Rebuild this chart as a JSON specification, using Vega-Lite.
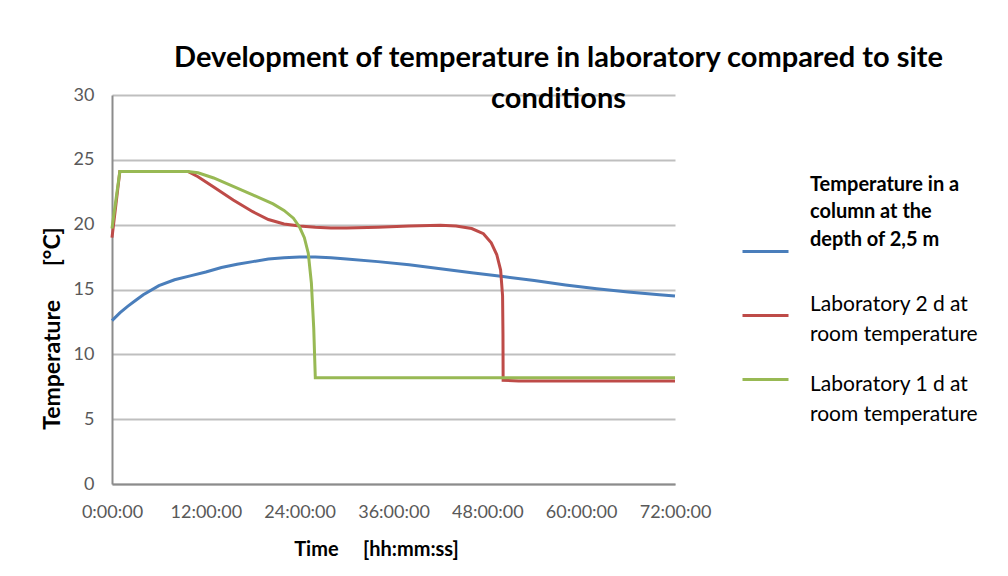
{
  "$schema": "https://vega.github.io/schema/vega-lite/v6.json",
  "width": 563,
  "height": 389,
  "autosize": {"type": "none"},
  "padding": {"left": 112, "top": 95, "right": 333, "bottom": 92},
  "background": "white",
  "title": {
    "text": ["Development of temperature in laboratory compared to site", "conditions"],
    "font": "Lato",
    "fontSize": 29,
    "fontWeight": "bold",
    "color": "#000000",
    "lineHeight": 41,
    "anchor": "middle",
    "dx": 165,
    "offset": -28
  },
  "data": {
    "values": [
      {"t": 0, "v": 12.6, "s": "blue"},
      {"t": 1, "v": 13.2, "s": "blue"},
      {"t": 2, "v": 13.7, "s": "blue"},
      {"t": 3, "v": 14.15, "s": "blue"},
      {"t": 4, "v": 14.6, "s": "blue"},
      {"t": 6, "v": 15.3, "s": "blue"},
      {"t": 8, "v": 15.75, "s": "blue"},
      {"t": 10, "v": 16.05, "s": "blue"},
      {"t": 12, "v": 16.35, "s": "blue"},
      {"t": 14, "v": 16.7, "s": "blue"},
      {"t": 16, "v": 16.95, "s": "blue"},
      {"t": 18, "v": 17.15, "s": "blue"},
      {"t": 20, "v": 17.35, "s": "blue"},
      {"t": 22, "v": 17.45, "s": "blue"},
      {"t": 24, "v": 17.5, "s": "blue"},
      {"t": 26, "v": 17.5, "s": "blue"},
      {"t": 28, "v": 17.45, "s": "blue"},
      {"t": 30, "v": 17.35, "s": "blue"},
      {"t": 34, "v": 17.15, "s": "blue"},
      {"t": 38, "v": 16.9, "s": "blue"},
      {"t": 42, "v": 16.6, "s": "blue"},
      {"t": 46, "v": 16.3, "s": "blue"},
      {"t": 50, "v": 16.0, "s": "blue"},
      {"t": 54, "v": 15.7, "s": "blue"},
      {"t": 58, "v": 15.35, "s": "blue"},
      {"t": 62, "v": 15.05, "s": "blue"},
      {"t": 66, "v": 14.8, "s": "blue"},
      {"t": 70, "v": 14.6, "s": "blue"},
      {"t": 72, "v": 14.5, "s": "blue"},

      {"t": 0, "v": 19.0, "s": "red"},
      {"t": 1, "v": 24.1, "s": "red"},
      {"t": 9.7, "v": 24.1, "s": "red"},
      {"t": 11, "v": 23.7, "s": "red"},
      {"t": 13, "v": 22.9, "s": "red"},
      {"t": 15.5, "v": 21.9, "s": "red"},
      {"t": 18, "v": 21.0, "s": "red"},
      {"t": 20, "v": 20.4, "s": "red"},
      {"t": 22, "v": 20.05, "s": "red"},
      {"t": 24, "v": 19.9, "s": "red"},
      {"t": 26, "v": 19.8, "s": "red"},
      {"t": 28, "v": 19.75, "s": "red"},
      {"t": 30, "v": 19.75, "s": "red"},
      {"t": 34, "v": 19.8, "s": "red"},
      {"t": 38, "v": 19.9, "s": "red"},
      {"t": 42, "v": 19.95, "s": "red"},
      {"t": 44, "v": 19.9, "s": "red"},
      {"t": 46, "v": 19.7, "s": "red"},
      {"t": 47.5, "v": 19.3, "s": "red"},
      {"t": 48.5, "v": 18.6, "s": "red"},
      {"t": 49.2, "v": 17.7, "s": "red"},
      {"t": 49.7, "v": 16.5, "s": "red"},
      {"t": 49.95, "v": 14.5, "s": "red"},
      {"t": 50.0, "v": 11.5, "s": "red"},
      {"t": 50.02, "v": 8.0, "s": "red"},
      {"t": 52, "v": 7.95, "s": "red"},
      {"t": 72, "v": 7.95, "s": "red"},

      {"t": 0, "v": 19.7, "s": "green"},
      {"t": 1, "v": 24.1, "s": "green"},
      {"t": 9.7, "v": 24.1, "s": "green"},
      {"t": 11, "v": 24.0, "s": "green"},
      {"t": 13, "v": 23.6, "s": "green"},
      {"t": 15.5, "v": 22.95, "s": "green"},
      {"t": 18, "v": 22.3, "s": "green"},
      {"t": 20.6, "v": 21.6, "s": "green"},
      {"t": 22, "v": 21.1, "s": "green"},
      {"t": 23.2, "v": 20.5, "s": "green"},
      {"t": 24, "v": 19.8, "s": "green"},
      {"t": 24.6, "v": 19.0, "s": "green"},
      {"t": 25.1, "v": 17.8, "s": "green"},
      {"t": 25.5, "v": 15.5, "s": "green"},
      {"t": 25.8, "v": 12.0, "s": "green"},
      {"t": 26.0, "v": 8.2, "s": "green"},
      {"t": 72, "v": 8.2, "s": "green"}
    ]
  },
  "mark": {"type": "line", "strokeWidth": 3, "interpolate": "linear"},
  "encoding": {
    "x": {
      "field": "t",
      "type": "quantitative",
      "scale": {"domain": [0, 72], "nice": false},
      "axis": {
        "values": [0, 12, 24, 36, 48, 60, 72],
        "labelExpr": "datum.value + ':00:00'",
        "labelFlush": false,
        "labelOverlap": false,
        "grid": false,
        "ticks": false,
        "domainColor": "#8c8c8c",
        "domainWidth": 2,
        "labelFont": "Lato",
        "labelFontSize": 18,
        "labelColor": "#595959",
        "labelPadding": 19,
        "title": "Time\u00a0\u00a0\u00a0\u00a0\u00a0[hh:mm:ss]",
        "titleFont": "Lato",
        "titleFontSize": 20,
        "titleFontWeight": "bold",
        "titleColor": "#000000",
        "titleX": 264,
        "titleY": 55
      }
    },
    "y": {
      "field": "v",
      "type": "quantitative",
      "scale": {"domain": [0, 30], "nice": false},
      "axis": {
        "values": [0, 5, 10, 15, 20, 25, 30],
        "grid": true,
        "gridColor": "#bfbfbf",
        "gridWidth": 2,
        "ticks": false,
        "domainColor": "#8c8c8c",
        "domainWidth": 2,
        "labelFont": "Lato",
        "labelFontSize": 18,
        "labelColor": "#595959",
        "labelPadding": 18,
        "title": "Temperature\u00a0\u00a0\u00a0\u00a0\u00a0\u00a0[°C]",
        "titleFont": "Lato",
        "titleFontSize": 23,
        "titleFontWeight": "bold",
        "titleColor": "#000000",
        "titleAngle": -90,
        "titleBaseline": "middle",
        "titleX": -60,
        "titleY": 233
      }
    },
    "color": {
      "field": "s",
      "type": "nominal",
      "scale": {"domain": ["blue", "red", "green"], "range": ["#4a7ebb", "#be4b48", "#98b954"]},
      "legend": {
        "title": null,
        "orient": "none",
        "legendX": 629,
        "legendY": 154,
        "symbolType": "stroke",
        "symbolSize": 2116,
        "symbolStrokeWidth": 3,
        "labelOffset": 20,
        "labelFont": "Lato",
        "labelFontSize": 20,
        "labelColor": "#000000",
        "labelLimit": 300,
        "rowPadding": 10,
        "labelExpr": "datum.label == 'blue' ? ['Temperature in a', 'column at the', 'depth of 2,5 m'] : datum.label == 'red' ? ['Laboratory 2 d at', 'room temperature'] : ['Laboratory 1 d at', 'room temperature']",
        "encode": {
          "symbols": {
            "update": {
              "shape": {"signal": "datum.index === 0 ? 'M-1,-0.96H1M0,0.06' : 'stroke'"}
            }
          },
          "labels": {
            "update": {
              "fontWeight": {"signal": "datum.index === 0 ? 'bold' : 'normal'"},
              "fontSize": {"signal": "datum.index === 0 ? 20 : 21"},
              "lineHeight": {"signal": "datum.index === 0 ? 27.5 : 30"},
              "dy": {"signal": "datum.index === 0 ? -89 : datum.index === 1 ? -11 : 5"}
            }
          }
        }
      }
    }
  },
  "config": {
    "view": {"stroke": null}
  }
}
